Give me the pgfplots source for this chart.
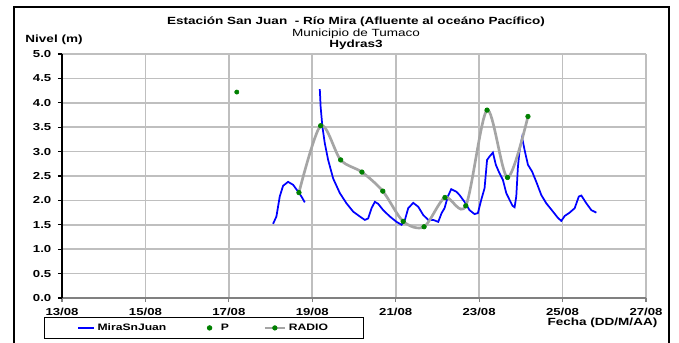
\documentclass[border=0pt]{standalone}
\usepackage{fontspec}
\setmainfont{Liberation Sans}[FakeStretch=1.3]
\usepackage{pgfplots}
\pgfplotsset{compat=1.18}
\definecolor{radiogray}{RGB}{165,165,165}
\definecolor{mkgreen}{RGB}{0,128,0}
\pgfplotsset{
  leglineA/.style={legend image code/.code={\draw[##1] (0pt,0pt) -- (12pt,0pt);}},
  legdotA/.style={legend image code/.code={\path (0pt,0pt) (12pt,0pt); \draw[##1] plot coordinates {(6pt,0pt)};}},
  leglinemarkA/.style={legend image code/.code={\draw[##1,mark repeat=2,mark phase=2] plot coordinates {(0pt,0pt) (7.5pt,0pt) (15pt,0pt)};}},
}
\begin{document}
\begin{tikzpicture}
\useasboundingbox (0,0) rectangle (509.25pt,257.25pt);
\draw[line width=1.9pt] (10.5pt,-5pt) -- (10.5pt,252pt) -- (501.75pt,252pt) -- (501.75pt,-5pt);
\begin{axis}[
  at={(46.5pt,33.75pt)}, anchor=south west,
  scale only axis, width=438pt, height=183pt,
  xmin=13, xmax=27, ymin=0, ymax=5,
  axis line style={draw=none},
  xtick={13,15,17,19,21,23,25,27},
  xticklabels={13/08,15/08,17/08,19/08,21/08,23/08,25/08,27/08},
  ytick={0,0.5,1,1.5,2,2.5,3,3.5,4,4.5,5},
  tick align=outside, major tick length=3pt,
  xtick pos=bottom, ytick pos=left,
  x tick style={gray, line width=0.8pt},
  y tick style={black, line width=0.8pt},
  grid=major,
  major grid style={color=black!25, line width=1.2pt},
  tick label style={font=\fontsize{7.6}{8}\selectfont\bfseries},
  xticklabel style={yshift=-1pt},
  yticklabel style={xshift=-1.5pt},
  /pgf/number format/assume math mode=true,
  yticklabel style={/pgf/number format/fixed, /pgf/number format/fixed zerofill, /pgf/number format/precision=1},
  unbounded coords=jump,
  legend columns=3,
  legend style={at={(axis description cs:-0.0308,-0.0779)}, anchor=north west,
    draw=black, line width=0.8pt, inner xsep=24.5pt, inner ysep=2.5pt,
    font=\fontsize{7}{8}\selectfont\bfseries,
    /tikz/every even column/.append style={column sep=24pt}},
  legend cell align=left,
  after end axis/.code={
    \draw[gray, line width=1pt] (rel axis cs:0,0) -- (rel axis cs:1,0);
    \draw[black, line width=1pt] (rel axis cs:0,0) -- (rel axis cs:0,1);
  },
]
\addplot[color=blue, line width=1.3pt, leglineA]
coordinates {
(18.06,1.52) (18.14,1.67) (18.22,2.08) (18.30,2.30) (18.42,2.38) (18.54,2.32)
(18.66,2.18) (18.74,2.08) (18.82,1.96) (18.9,nan)
(19.18,4.28) (19.20,3.92) (19.24,3.53) (19.30,3.17) (19.38,2.83) (19.50,2.45)
(19.66,2.15) (19.82,1.94) (19.98,1.77) (20.14,1.67) (20.26,1.60) (20.34,1.63)
(20.42,1.84) (20.50,1.97) (20.58,1.93) (20.70,1.80) (20.86,1.67) (21.02,1.56)
(21.14,1.50) (21.22,1.60) (21.30,1.84) (21.42,1.95) (21.54,1.87) (21.66,1.70)
(21.78,1.60) (21.90,1.60) (22.02,1.56) (22.10,1.74) (22.17,1.84) (22.25,2.08)
(22.33,2.23) (22.45,2.18) (22.53,2.11) (22.65,1.97) (22.77,1.80) (22.89,1.72)
(22.97,1.74) (23.05,2.01) (23.13,2.25) (23.19,2.83) (23.25,2.90) (23.33,2.98)
(23.40,2.73) (23.47,2.59) (23.57,2.42) (23.65,2.15) (23.73,2.01) (23.80,1.89)
(23.85,1.86) (23.89,2.08) (23.93,2.69) (23.97,3.03) (24.03,3.29) (24.09,3.03)
(24.17,2.73) (24.27,2.59) (24.37,2.38) (24.49,2.11) (24.61,1.94) (24.77,1.77)
(24.89,1.64) (24.97,1.58) (25.05,1.68) (25.17,1.75) (25.29,1.84) (25.39,2.08)
(25.45,2.10) (25.57,1.94) (25.69,1.80) (25.81,1.75)
};
\addlegendentry{MiraSnJuan}
\addplot[only marks, mark=*, mark size=1.6pt, color=mkgreen, legdotA]
coordinates {(17.19,4.22)};
\addlegendentry{P}
\addplot[smooth, color=radiogray, line width=2pt, mark=*,
  mark options={draw=mkgreen, fill=mkgreen, line width=0.5pt}, mark size=1.7pt, leglinemarkA]
coordinates {
(18.68,2.16) (19.20,3.53) (19.68,2.83) (20.19,2.58) (20.69,2.19) (21.18,1.57)
(21.68,1.46) (22.18,2.06) (22.68,1.89) (23.19,3.85) (23.68,2.47) (24.17,3.72)
};
\addlegendentry{RADIO}
\end{axis}
\node[font=\fontsize{7.8}{9}\selectfont\bfseries] at (267pt,241pt) {Estación San Juan\ \ - Río Mira (Afluente al oceáno Pacífico)};
\node[font=\fontsize{7.8}{9}\selectfont] at (267pt,232pt) {Municipio de Tumaco};
\node[font=\fontsize{7.8}{9}\selectfont\bfseries] at (267pt,223.6pt) {Hydras3};
\node[font=\fontsize{7.8}{9}\selectfont\bfseries] at (40.5pt,227.5pt) {Nivel (m)};
\node[font=\fontsize{7.8}{9}\selectfont\bfseries, anchor=east] at (496.5pt,15.5pt) {Fecha (DD/M/AA)};
\end{tikzpicture}
\end{document}
